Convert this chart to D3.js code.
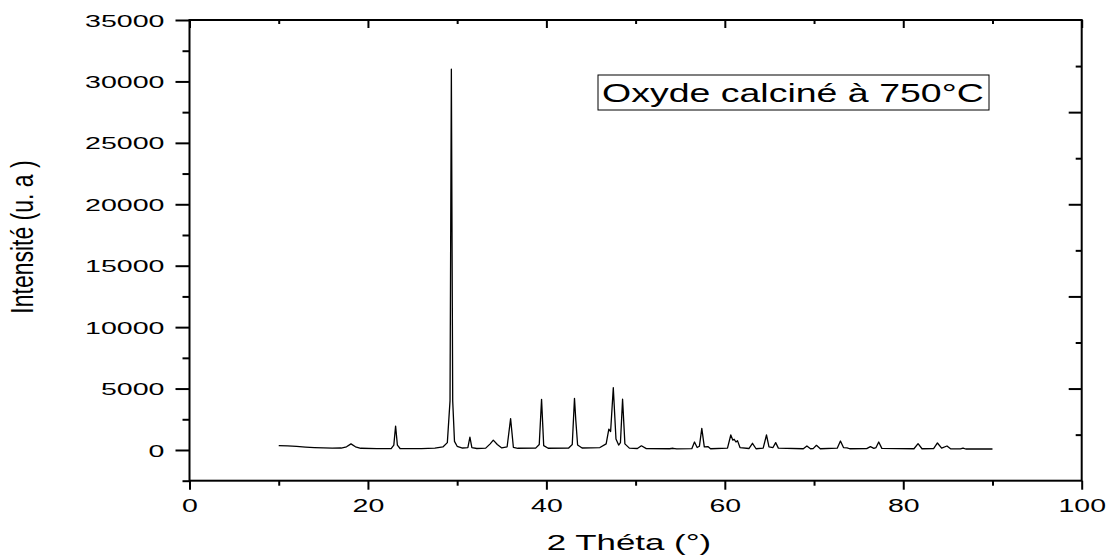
<!DOCTYPE html>
<html>
<head>
<meta charset="utf-8">
<script src="https://cdn.jsdelivr.net/npm/d3@7"></script>
<style>
    body { margin: 0; background: #fff; }
    text { font-family: "Liberation Sans", Arial, sans-serif; fill: #000; }
</style>
</head>
<body>
<svg id="chart" width="1111" height="556"></svg>
<script>
// diffraction pattern (2 theta in degrees, intensity in a.u.)
var twoTheta = [10.0, 11, 12, 13, 14, 15, 16, 17, 17.6, 18.1, 18.6, 19.2, 21, 22.6, 22.9, 23.1, 23.3, 23.6,
    26, 27.5, 28.4, 28.9, 29.2, 29.35, 29.5, 29.7, 30.0, 30.6, 31.2, 31.43, 31.65, 32.2, 33.2, 33.7, 34.05, 34.5,
    35.0, 35.6, 35.99, 36.3, 36.8, 38.8, 39.2, 39.46, 39.7, 40.2, 42.5, 42.9, 43.15, 43.3, 43.5, 44.0,
    46.0, 46.7, 47.0, 47.2, 47.5, 47.8, 48.1, 48.3, 48.54, 48.8, 49.3, 50.2, 50.65, 51.2, 53.8, 54.2, 54.6,
    56.3, 56.6, 56.9, 57.15, 57.42, 57.7, 58.1, 58.4, 60.3, 60.67, 60.9, 61.05, 61.25, 61.42, 61.7, 62.7, 63.1, 63.5,
    64.3, 64.67, 64.95, 65.4, 65.7, 66.0, 68.8, 69.2, 69.6, 69.9, 70.27, 70.7, 72.6, 72.96, 73.3, 73.7, 74.0,
    75.9, 76.32, 76.7, 76.95, 77.25, 77.6, 81.2, 81.66, 82.1, 83.4, 83.83, 84.3, 84.9, 85.3, 86.4, 86.7, 87.0, 90.0];
var intensity = [360, 330, 290, 240, 200, 170, 150, 160, 260, 500, 260, 140, 110, 110, 400, 1950, 400, 120,
    110, 150, 250, 600, 4000, 31000, 4000, 700, 300, 160, 200, 1050, 200, 120, 150, 500, 800, 450,
    170, 260, 2550, 220, 140, 150, 450, 4120, 350, 140, 160, 450, 4200, 2400, 400, 160,
    200, 500, 1700, 1500, 5070, 900, 400, 600, 4130, 500, 150, 120, 340, 110, 100, 140, 90,
    110, 650, 200, 300, 1760, 250, 280, 100, 150, 1220, 800, 870, 650, 760, 200, 120, 545, 100,
    150, 1220, 250, 200, 600, 150, 100, 325, 100, 110, 380, 100, 150, 730, 200, 180, 100,
    110, 270, 130, 200, 650, 130, 100, 515, 100, 110, 570, 150, 325, 100, 90, 160, 80, 80];

var xMajor = [0, 20, 40, 60, 80, 100];
var xMinor = [10, 30, 50, 70, 90];
var yMajor = [0, 5000, 10000, 15000, 20000, 25000, 30000, 35000];
var yMinor = [-2500, 2500, 7500, 12500, 17500, 22500, 27500, 32500];
var rightMajor = [5000, 12500, 20000, 27500];
var rightMinor = [1250, 8750, 16250, 23750, 31250];

var xTitle = "2 Théta (°)";
var yTitle = "Intensité (u. a )";
var legendText = "Oxyde calciné à 750°C";

var plotLeft = 189.5, plotRight = 1081.7, plotTop = 20, plotBottom = 480.7;

var svg = d3.select("#chart");

var x = d3.scaleLinear().domain([0, 100]).range([plotLeft, plotRight]);
var y = d3.scaleLinear().domain([-2500, 35000]).range([plotBottom, plotTop]);

// stretch text sideways like the picture
function stretchLabels(g, dx, dy, sx, anchor) {
    g.selectAll("text")
        .attr("x", 0).attr("y", 0)
        .attr("text-anchor", anchor)
        .attr("transform", "translate(" + dx + "," + dy + ") scale(" + sx + ",1)");
}

// left axis
var gl = svg.append("g").attr("transform", "translate(" + plotLeft + ",0)")
    .call(d3.axisLeft(y).tickValues(yMajor).tickSize(14).tickSizeOuter(0).tickFormat(d3.format("d")));
gl.selectAll("text").style("font-size", "17px").attr("dy", "0.36em");
stretchLabels(gl, -25, 0, 1.68, "end");
svg.append("g").attr("transform", "translate(" + plotLeft + ",0)")
    .call(d3.axisLeft(y).tickValues(yMinor).tickSize(7).tickSizeOuter(0).tickFormat(""));

// bottom axis
var gb = svg.append("g").attr("transform", "translate(0," + plotBottom + ")")
    .call(d3.axisBottom(x).tickValues(xMajor).tickSize(9).tickSizeOuter(0));
gb.selectAll("text").style("font-size", "19px").attr("dy", "0.71em");
stretchLabels(gb, 0, 18, 1.5, "middle");
svg.append("g").attr("transform", "translate(0," + plotBottom + ")")
    .call(d3.axisBottom(x).tickValues(xMinor).tickSize(5).tickSizeOuter(0).tickFormat(""));

// top axis, ticks inside
svg.append("g").attr("transform", "translate(0," + plotTop + ")")
    .call(d3.axisTop(x).tickValues(xMajor).tickSize(-8).tickSizeOuter(0).tickFormat(""));
svg.append("g").attr("transform", "translate(0," + plotTop + ")")
    .call(d3.axisTop(x).tickValues(xMinor).tickSize(-4).tickSizeOuter(0).tickFormat(""));

// right axis, ticks inside
svg.append("g").attr("transform", "translate(" + plotRight + ",0)")
    .call(d3.axisRight(y).tickValues(rightMajor).tickSize(-13).tickSizeOuter(0).tickFormat(""));
svg.append("g").attr("transform", "translate(" + plotRight + ",0)")
    .call(d3.axisRight(y).tickValues(rightMinor).tickSize(-6).tickSizeOuter(0).tickFormat(""));

svg.selectAll(".domain").remove();
svg.selectAll(".tick line").attr("stroke", "#000").attr("stroke-width", 2);

svg.append("rect")
    .attr("x", plotLeft).attr("y", plotTop)
    .attr("width", plotRight - plotLeft).attr("height", plotBottom - plotTop)
    .attr("fill", "none").attr("stroke", "#000").attr("stroke-width", 2);

// pattern
var line = d3.line()
    .x(function (d, i) { return x(twoTheta[i]); })
    .y(function (d) { return y(d); });

svg.append("path")
    .datum(intensity)
    .attr("d", line)
    .attr("fill", "none")
    .attr("stroke", "#000")
    .attr("stroke-width", 1.3)
    .attr("stroke-linejoin", "round");

// legend box
svg.append("rect")
    .attr("x", 598).attr("y", 75).attr("width", 391).attr("height", 35)
    .attr("fill", "#fff").attr("stroke", "#000").attr("stroke-width", 1);
svg.append("text")
    .attr("transform", "translate(602,101.5) scale(1.5,1)")
    .style("font-size", "25px")
    .text(legendText);

// axis titles
svg.append("text")
    .attr("text-anchor", "middle")
    .attr("transform", "translate(629,550) scale(1.55,1)")
    .style("font-size", "22.5px")
    .text(xTitle);

svg.append("text")
    .attr("text-anchor", "middle")
    .attr("transform", "translate(33,237) scale(1.4,1) rotate(-90)")
    .style("font-size", "23px")
    .text(yTitle);
</script>
</body>
</html>
